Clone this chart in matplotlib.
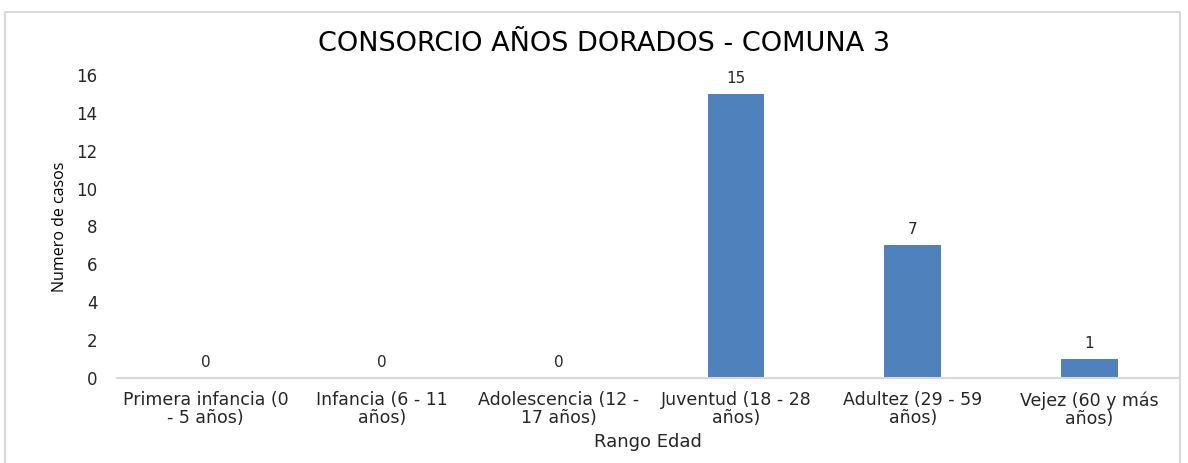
import matplotlib.pyplot as plt
from matplotlib.patches import Rectangle

# datos
categorias = ["Primera infancia (0\n- 5 años)", "Infancia (6 - 11\naños)", "Adolescencia (12 -\n17 años)",
              "Juventud (18 - 28\naños)", "Adultez (29 - 59\naños)", "Vejez (60 y más\naños)"]
casos = [0, 0, 0, 15, 7, 1]
yticks = [0, 2, 4, 6, 8, 10, 12, 14, 16]

plt.rcParams['font.family'] = ['DejaVu Sans']

fig = plt.figure(figsize=(11.88, 4.63), dpi=100)
ax = fig.add_axes([0.0985, 0.1836, 0.893, 0.6544])

x = list(range(len(casos)))
barras = ax.bar(x, casos, width=0.32, color='#4F81BD')
for xi, v in zip(x, casos):
    ax.annotate(str(v), (xi, v), xytext=(0, 6), textcoords='offset points',
                ha='center', va='bottom', fontsize=11, color='#262626')

ax.set_xlim(-0.5, len(casos) - 0.5)
ax.set_ylim(0, 16)
ax.set_yticks(yticks)
ax.set_xticks(x)
ax.set_xticklabels(categorias, fontsize=12.5, color='#262626', linespacing=1.0)
ax.tick_params(axis='y', length=0, labelsize=12, labelcolor='#262626', pad=14)
ax.tick_params(axis='x', length=0, pad=9.5)

for s in ['top', 'right', 'left']:
    ax.spines[s].set_visible(False)
ax.spines['bottom'].set_color('#D9D9D9')
ax.spines['bottom'].set_linewidth(1.5)

fig.text(0.508, 0.905, "CONSORCIO AÑOS DORADOS - COMUNA 3", fontsize=19.5, color='#000000',
         ha='center', va='center')
ax.set_xlabel("Rango Edad", fontsize=13, color='#262626', labelpad=4)
ax.set_ylabel("Numero de casos", fontsize=11.5, color='#000000', labelpad=6,
              family=['Open Sans', 'DejaVu Sans'])

# borde del gráfico
fig.patches.append(Rectangle((5 / 1188, -0.05), 1175 / 1188, 1.05 - 12 / 463,
                             transform=fig.transFigure, fill=False,
                             edgecolor='#D9D9D9', linewidth=1.5))

fig.savefig('out.png', dpi=100)
